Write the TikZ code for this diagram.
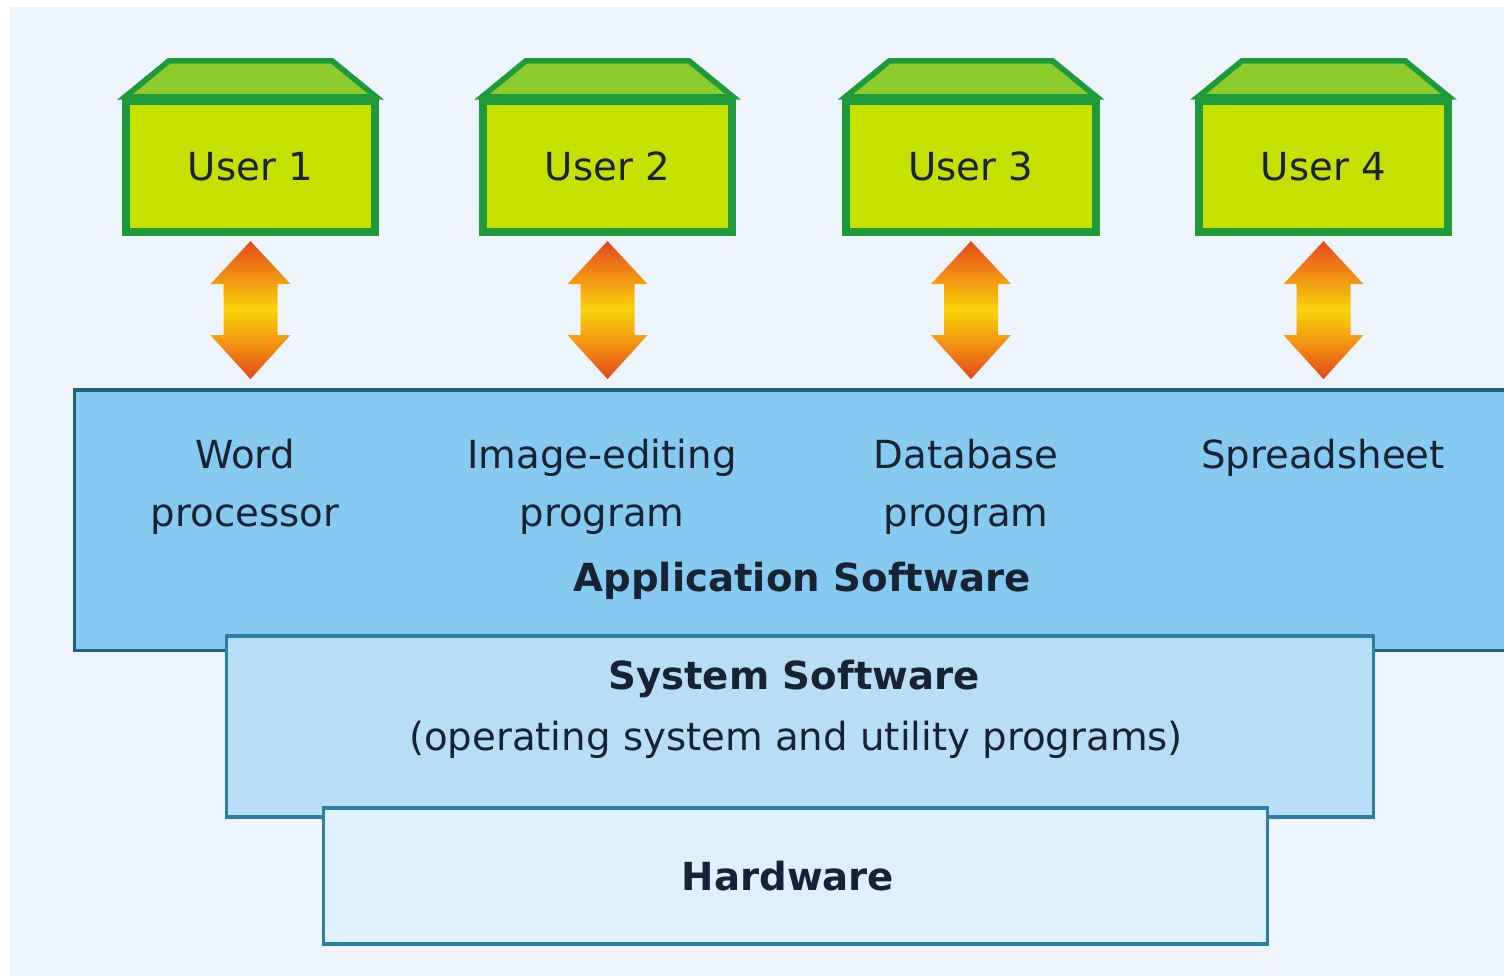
\documentclass[tikz,border=0pt]{standalone}
\usepackage{fontspec}
\setmainfont{DejaVu Sans}
\usetikzlibrary{calc}
\definecolor{bgc}{HTML}{EEF4FB}
\definecolor{ugreen}{HTML}{1E9A3A}
\definecolor{ufill}{HTML}{C6E000}
\definecolor{utop}{HTML}{8DCB2C}
\definecolor{appfill}{HTML}{86C9F1}
\definecolor{appdraw}{HTML}{23627F}
\definecolor{sysfill}{HTML}{B8DDF5}
\definecolor{sysdraw}{HTML}{2B7EA6}
\definecolor{hwfill}{HTML}{DDF0FB}
\definecolor{txt}{HTML}{172232}
\definecolor{ared}{HTML}{E2481E}
\definecolor{aorange}{HTML}{F28C12}
\definecolor{ayellow}{HTML}{F8D40A}
\pgfdeclareverticalshading{arrowshade}{100bp}{color(0bp)=(ared); color(25bp)=(ared); color(37bp)=(aorange); color(50bp)=(ayellow); color(63bp)=(aorange); color(75bp)=(ared); color(100bp)=(ared)}
\tikzset{
  userbox/.style={draw=ugreen, line width=2.3pt, fill=ufill, minimum width=2.49cm, minimum height=1.31cm, inner sep=0pt, font=\fontsize{11}{13}\selectfont, text=txt},
  usertop/.style={draw=ugreen, line width=1.6pt, fill=utop, line join=miter},
  layerbox/.style={line width=0.9pt, inner sep=0pt},
  lbl/.style={font=\fontsize{11}{16.5}\selectfont, text=txt, align=center, inner sep=0pt},
  blbl/.style={font=\fontsize{11}{16.5}\selectfont\bfseries, text=txt, align=center, inner sep=0pt},
  dblarrow/.style={shading=arrowshade, draw=none},
}
\begin{document}
\begin{tikzpicture}[x=0.01cm,y=-0.01cm]
\useasboundingbox (0,0) rectangle (1504,976);
\clip (0,0) rectangle (1504,976);
\fill[white] (0,0) rectangle (1504,976);
\fill[bgc] (10,7) rectangle (1504,976);

% layers
\node[layerbox, draw=appdraw, fill=appfill, minimum width=14.4cm, minimum height=2.6cm] (app) at (795,520) {};
\node[layerbox, draw=sysdraw, fill=sysfill, minimum width=11.46cm, minimum height=1.81cm] (sys) at (800,726.5) {};
\node[layerbox, draw=sysdraw, fill=hwfill, minimum width=9.43cm, minimum height=1.36cm] (hw) at (795.5,876) {};

% users
\foreach \i/\x in {1/250.5, 2/607.5, 3/971, 4/1323.5}{
  \node[userbox] (u\i) at (\x,166.5) {User \i};
  \draw[usertop] ($(u\i.north west)+(3,0)$) -- ++(44,-36) -- ($(u\i.north east)+(-47,-36)$) -- ($(u\i.north east)+(-3,0)$) -- cycle;
  \coordinate (t\i) at ($(u\i.south)+(0,5)$);
  \path[dblarrow] (t\i) -- ++(40,43) -- ++(-13,0) -- ++(0,51) -- ++(13,0) -- ++(-40,44) -- ++(-40,-44) -- ++(13,0) -- ++(0,-51) -- ++(-13,0) -- cycle;
}

% application labels
\node[lbl] (w) at (245,487) {Word\\processor};
\node[lbl] (ie) at (602,487) {Image-editing\\program};
\node[lbl] (db) at (966,487) {Database\\program};
\node[lbl] (ss) at (1323,458) {Spreadsheet};
\node[blbl] (appl) at (802,581) {Application Software};
\node[blbl] (sysl) at (794,679) {System Software};
\node[lbl] (sysd) at (796,740) {(operating system and utility programs)};
\node[blbl] (hwl) at (788,876) {Hardware};
\end{tikzpicture}
\end{document}
